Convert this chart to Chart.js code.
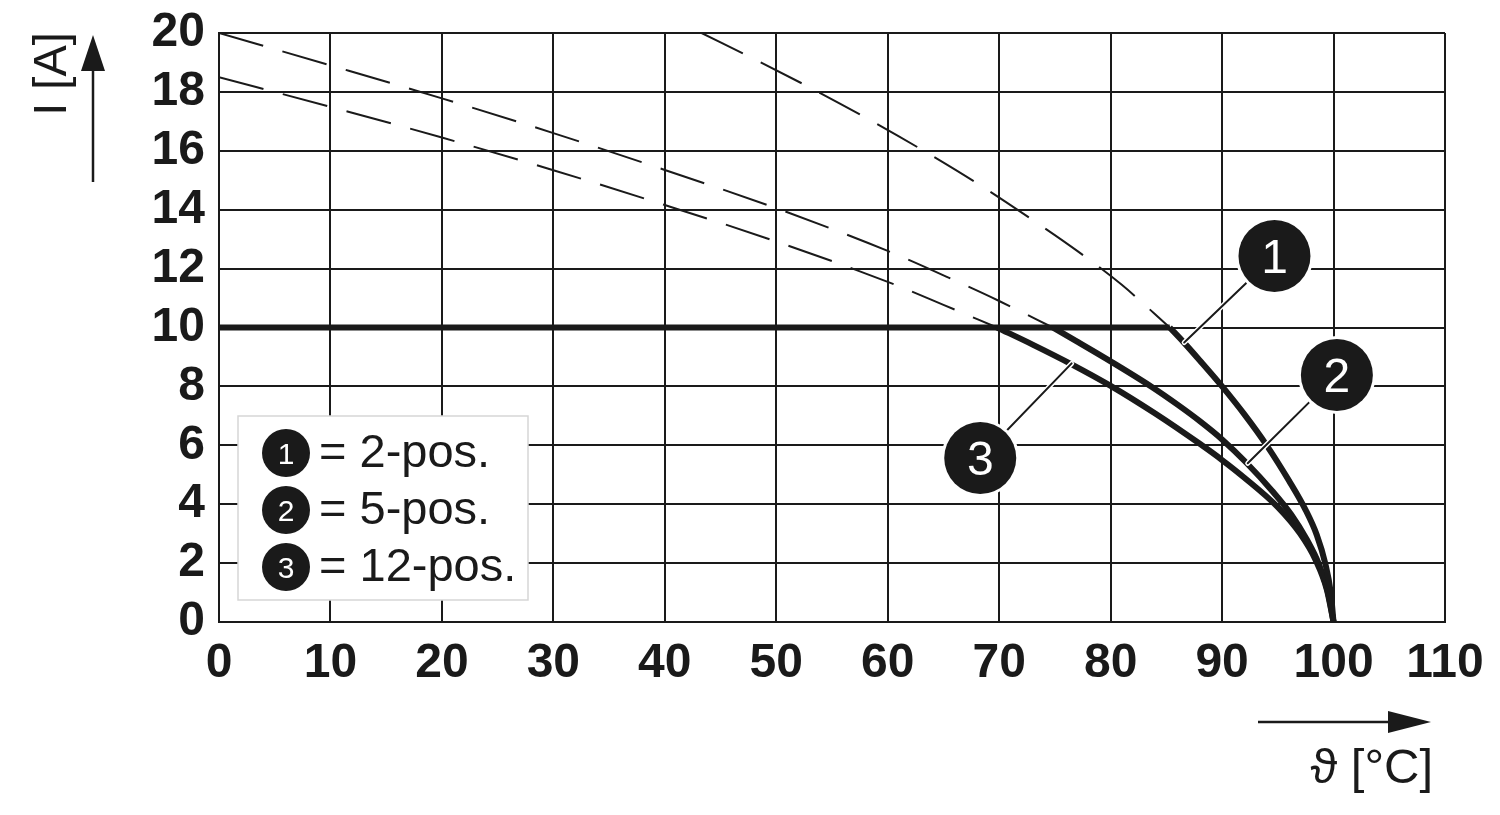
<!DOCTYPE html>
<html lang="en">
<head>
<meta charset="UTF-8">
<title>Derating curve</title>
<script src="https://cdn.jsdelivr.net/npm/chart.js"></script>
<style>
  body { margin: 0; background: #fff; }
  #wrap { width: 1500px; height: 815px; }
</style>
</head>
<body>
<div id="wrap"><canvas id="derating" width="1500" height="815"></canvas></div>
<script>
// rated current plateau, shared by all three variants
const plateauX = [0, 85.3];
const plateauY = [10, 10];

// 1 = 2-pos.
const curve1X = [85.3, 86.5, 88, 90, 92, 94, 96, 97.5, 98.5, 99.25, 99.75, 100];
const curve1Y = [10, 9.52, 8.88, 8.0, 7.05, 6.0, 4.8, 3.8, 2.95, 2.0, 1.0, 0];
const dash1X = [43.3, 48, 53, 58, 63, 68, 73, 77, 81, 85.3];
const dash1Y = [20, 19.12, 18.15, 17.13, 16.05, 14.9, 13.65, 12.6, 11.45, 10];

// 2 = 5-pos.
const curve2X = [74.8, 77, 80, 83.7, 86, 88, 90, 92.2, 94.5, 96.2, 97.6, 98.7, 99.5, 100];
const curve2Y = [10, 9.52, 8.85, 7.98, 7.38, 6.82, 6.2, 5.4, 4.45, 3.65, 2.8, 1.95, 1.0, 0];
const dash2X = [0, 10, 20, 30, 40, 50, 60, 66, 70, 74.8];
const dash2Y = [20, 18.9, 17.78, 16.6, 15.35, 14.05, 12.6, 11.6, 10.9, 10];

// 3 = 12-pos.
const curve3X = [69.8, 73, 76.5, 80, 84, 88, 90, 92, 95, 97, 98.4, 99.4, 100];
const curve3Y = [10, 9.42, 8.75, 8.02, 7.08, 6.05, 5.5, 4.9, 3.9, 3.0, 2.1, 1.1, 0];
const dash3X = [0, 10, 20, 30, 40, 50, 60, 65, 69.8];
const dash3Y = [18.5, 17.49, 16.45, 15.34, 14.16, 12.92, 11.55, 10.77, 10];

const markerNums = ['1', '2', '3'];
const legendLabels = ['= 2-pos.', '= 5-pos.', '= 12-pos.'];
const yTitle = 'I [A]';
const xTitle = 'ϑ [°C]';

const INK = '#1a1a1a';
const FONT = "'Liberation Sans', Arial, Helvetica, sans-serif";

// callout circles: where the leader touches the curve, and where the circle sits
const callouts = [
  { at: [86.6, 9.49], center: [94.7, 12.43] },
  { at: [92.3, 5.39], center: [100.3, 8.39] },
  { at: [76.5, 8.78], center: [68.3, 5.57] }
];

function pts(xs, ys) {
  return xs.map((x, i) => ({ x, y: ys[i] }));
}

function solid(xs, ys, mono) {
  return {
    data: pts(xs, ys),
    borderColor: INK,
    borderWidth: 6,
    pointRadius: 0,
    fill: false,
    cubicInterpolationMode: mono ? 'monotone' : 'default',
    tension: 0
  };
}

function dashed(xs, ys) {
  return {
    data: pts(xs, ys),
    borderColor: INK,
    borderWidth: 2,
    borderDash: [46, 20],
    pointRadius: 0,
    fill: false,
    cubicInterpolationMode: 'monotone'
  };
}

function badge(ctx, cx, cy, r, txt, size, ring) {
  ctx.beginPath();
  ctx.arc(cx, cy, r + ring, 0, Math.PI * 2);
  ctx.fillStyle = '#fff';
  ctx.fill();
  ctx.beginPath();
  ctx.arc(cx, cy, r, 0, Math.PI * 2);
  ctx.fillStyle = INK;
  ctx.fill();
  ctx.fillStyle = '#fff';
  ctx.font = size + 'px ' + FONT;
  ctx.textAlign = 'center';
  ctx.textBaseline = 'alphabetic';
  ctx.fillText(txt, cx, cy + size * 0.36);
}

const overlay = {
  id: 'overlay',
  afterDatasetsDraw(chart) {
    const { ctx, chartArea: a, scales: { x, y } } = chart;
    ctx.save();

    // legend box
    const bx = a.left + 19, by = a.bottom - 206, bw = 290, bh = 184;
    ctx.fillStyle = '#fff';
    ctx.fillRect(bx, by, bw, bh);
    ctx.strokeStyle = '#d6d6d6';
    ctx.lineWidth = 1.5;
    ctx.strokeRect(bx, by, bw, bh);
    legendLabels.forEach((lbl, i) => {
      const rowY = by + 48 + i * 57;
      badge(ctx, bx + 48, rowY - 11, 24, markerNums[i], 30, 0);
      ctx.fillStyle = INK;
      ctx.font = '47px ' + FONT;
      ctx.textAlign = 'left';
      ctx.textBaseline = 'alphabetic';
      ctx.fillText(lbl, bx + 81, rowY + 3);
    });

    // leader lines with white halo, then the numbered circles
    callouts.forEach((c, i) => {
      const x0 = x.getPixelForValue(c.at[0]), y0 = y.getPixelForValue(c.at[1]);
      const x1 = x.getPixelForValue(c.center[0]), y1 = y.getPixelForValue(c.center[1]);
      ctx.lineCap = 'round';
      ctx.strokeStyle = '#fff';
      ctx.lineWidth = 5;
      ctx.beginPath(); ctx.moveTo(x0, y0); ctx.lineTo(x1, y1); ctx.stroke();
      ctx.strokeStyle = INK;
      ctx.lineWidth = 2;
      ctx.beginPath(); ctx.moveTo(x0, y0); ctx.lineTo(x1, y1); ctx.stroke();
      badge(ctx, x1, y1, 36, markerNums[i], 48, 3);
    });
    ctx.restore();
  },
  afterDraw(chart) {
    const { ctx, chartArea: a } = chart;
    ctx.save();
    ctx.fillStyle = INK;
    ctx.strokeStyle = INK;

    // y axis title + arrow
    ctx.save();
    ctx.translate(a.left - 166, 74);
    ctx.rotate(-Math.PI / 2);
    ctx.font = '47px ' + FONT;
    ctx.textAlign = 'center';
    ctx.textBaseline = 'middle';
    ctx.fillText(yTitle, 0, 0);
    ctx.restore();

    const ax = a.left - 126;
    ctx.lineWidth = 2.5;
    ctx.beginPath(); ctx.moveTo(ax, 182); ctx.lineTo(ax, 66); ctx.stroke();
    ctx.beginPath();
    ctx.moveTo(ax, 35); ctx.lineTo(ax - 12, 71); ctx.lineTo(ax + 12, 71); ctx.closePath();
    ctx.fill();

    // x axis arrow + title
    const ay = 722;
    ctx.beginPath(); ctx.moveTo(1258, ay); ctx.lineTo(1392, ay); ctx.stroke();
    ctx.beginPath();
    ctx.moveTo(1431, ay); ctx.lineTo(1388, ay - 11); ctx.lineTo(1388, ay + 11); ctx.closePath();
    ctx.fill();

    ctx.font = '49px ' + FONT;
    ctx.textAlign = 'right';
    ctx.textBaseline = 'alphabetic';
    ctx.fillText(xTitle, 1433, 783);
    ctx.restore();
  }
};

const tickFont = { family: FONT, size: 48, weight: 'bold' };

new Chart(document.getElementById('derating'), {
  type: 'line',
  data: {
    datasets: [
      dashed(dash1X, dash1Y),
      dashed(dash2X, dash2Y),
      dashed(dash3X, dash3Y),
      solid(plateauX, plateauY, false),
      solid(curve1X, curve1Y, true),
      solid(curve2X, curve2Y, true),
      solid(curve3X, curve3Y, true)
    ]
  },
  options: {
    responsive: false,
    animation: false,
    layout: { padding: { top: 33, right: 55, left: 0, bottom: 0 } },
    plugins: { legend: { display: false }, tooltip: { enabled: false } },
    scales: {
      x: {
        type: 'linear',
        min: 0,
        max: 110,
        ticks: { stepSize: 10, padding: 13, autoSkip: false, maxRotation: 0, color: INK, font: tickFont },
        grid: { color: INK, lineWidth: 2, drawTicks: false },
        border: { color: INK, width: 2 },
        afterFit(s) { s.height = 193; s.paddingLeft = 0; s.paddingRight = 0; }
      },
      y: {
        min: 0,
        max: 20,
        ticks: { stepSize: 2, padding: 14, autoSkip: false, color: INK, font: tickFont },
        grid: { color: INK, lineWidth: 2, drawTicks: false },
        border: { color: INK, width: 2 },
        afterFit(s) { s.width = 219; s.paddingTop = 0; s.paddingBottom = 0; }
      }
    }
  },
  plugins: [overlay]
});
</script>
</body>
</html>
